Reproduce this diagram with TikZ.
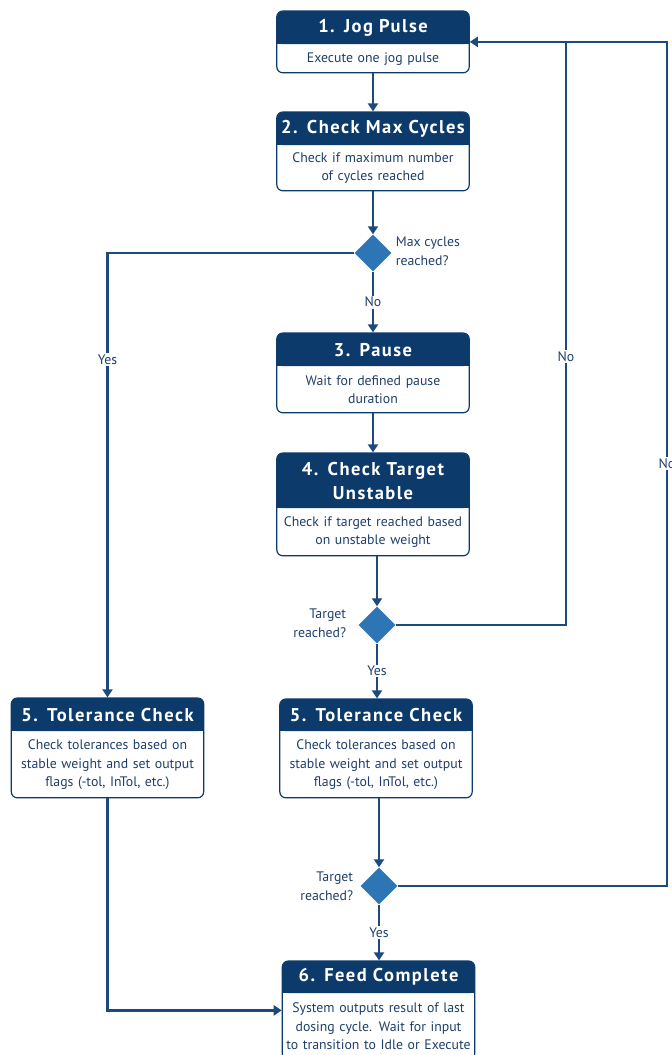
\documentclass[tikz,border=0pt]{standalone}
\usepackage{fontspec}
\setmainfont{PT Sans}
\newfontfamily\headfont[LetterSpace=8]{PT Sans}
\usetikzlibrary{positioning,fit,shapes.geometric,arrows.meta,backgrounds}
\definecolor{hdblue}{HTML}{0B3A6B}
\definecolor{dmblue}{HTML}{2E75B6}
\definecolor{lnblue}{HTML}{1C4A7E}
\definecolor{txblue}{HTML}{1F3F6A}
\begin{document}
\begin{tikzpicture}[x=1pt,y=-1pt,
  head/.style={fill=hdblue,text=white,font=\headfont\bfseries\fontsize{18.5}{24}\selectfont,text width=192pt,align=center,minimum height=#1,inner sep=0pt,rounded corners=6pt,anchor=north},
  head/.default=33pt,
  body/.style={text=txblue,font=\fontsize{13.8}{18.5}\selectfont,text width=192pt,align=center,minimum height=#1,inner sep=0pt},
  frame/.style={draw=hdblue,line width=1.2pt,rounded corners=6pt,inner sep=0pt},
  ask/.style={diamond,fill=dmblue,minimum width=37pt,minimum height=37pt,inner sep=0pt},
  note/.style={text=txblue,font=\fontsize{13.8}{19.5}\selectfont,inner sep=0pt},
  lbl/.style={fill=white,text=txblue,font=\fontsize{13.8}{16}\selectfont,inner sep=1.5pt},
  arr/.style={draw=lnblue,line width=2.4pt,-{Triangle[width=10pt,length=8pt]}},
  wire/.style={draw=lnblue,line width=2.4pt}]
\clip (0,0) rectangle (672,1055);

% boxes
\node[head] (h1) at (373,11) {1. Jog Pulse};
\scoped[on background layer] \fill[hdblue] (h1.south west) rectangle (h1.east);
\node[body=28pt,below=0pt of h1] (b1) {Execute one jog pulse};
\node[frame,fit=(h1)(b1)] (jog) {};

\node[head] (h2) at (373,112) {2. Check Max Cycles};
\scoped[on background layer] \fill[hdblue] (h2.south west) rectangle (h2.east);
\node[body=45pt,below=0pt of h2] (b2) {Check if maximum number\\of cycles reached};
\node[frame,fit=(h2)(b2)] (maxc) {};

\node[head] (h3) at (373,333) {3. Pause};
\scoped[on background layer] \fill[hdblue] (h3.south west) rectangle (h3.east);
\node[body=46pt,below=0pt of h3] (b3) {Wait for defined pause\\duration};
\node[frame,fit=(h3)(b3)] (pause) {};

\node[head=55pt] (h4) at (373,453) {4. Check Target\\Unstable};
\scoped[on background layer] \fill[hdblue] (h4.south west) rectangle (h4.east);
\node[body=47pt,below=0pt of h4] (b4) {Check if target reached based\\on unstable weight};
\node[frame,fit=(h4)(b4)] (unst) {};

\node[head] (h5) at (107.5,698) {5. Tolerance Check};
\scoped[on background layer] \fill[hdblue] (h5.south west) rectangle (h5.east);
\node[body=66pt,below=0pt of h5] (b5) {Check tolerances based on\\stable weight and set output\\flags (-tol, InTol, etc.)};
\node[frame,fit=(h5)(b5)] (tolL) {};

\node[head=32pt] (h6) at (376,699) {5. Tolerance Check};
\scoped[on background layer] \fill[hdblue] (h6.south west) rectangle (h6.east);
\node[body=66pt,below=0pt of h6] (b6) {Check tolerances based on\\stable weight and set output\\flags (-tol, InTol, etc.)};
\node[frame,fit=(h6)(b6)] (tolR) {};

\node[head=32pt] (h7) at (378.5,961) {6. Feed Complete};
\scoped[on background layer] \fill[hdblue] (h7.south west) rectangle (h7.east);
\node[body=66pt,below=0pt of h7] (b7) {System outputs result of last\\dosing cycle. Wait for input\\to transition to Idle or Execute};
\node[frame,fit=(h7)(b7)] (done) {};

% decisions
\node[ask] (q1) at (373,253) {};
\node[note,anchor=west,align=left] (t1) at ([xshift=4pt,yshift=2pt]q1.east) {Max cycles\\reached?};
\node[ask] (q2) at (377,625) {};
\node[note,anchor=east,align=right] (t2) at ([xshift=-12pt,yshift=2pt]q2.west) {Target\\reached?};
\node[ask] (q3) at (379,886) {};
\node[note,anchor=east,align=right] (t3) at ([xshift=-7pt]q3.west) {Target\\reached?};

\coordinate (rx1) at (566,0);
\coordinate (rx2) at (667,0);

% connectors
\draw[arr] (jog) -- (maxc);
\draw[arr] (maxc) -- (q1);
\draw[arr] (q1) -- node[lbl]{No} (pause);
\draw[arr] (pause) -- (unst);
\draw[arr] (unst.south -| q2) -- (q2);
\draw[arr] (q2) -- node[lbl]{Yes} (q2 |- tolR.north);
\draw[arr] (tolR.south -| q3) -- (q3);
\draw[arr] (q3) -- node[lbl]{Yes} (q3 |- done.north);
\draw[arr] (q1.west) -| node[lbl,pos=0.62]{Yes} (tolL.north);
\draw[arr] (tolL.south) |- (done.west);
\draw[arr] (q2.east) -| node[lbl,pos=0.73]{No} (jog.east -| rx1) -- (jog.east);
\draw[wire] (q3.east) -| node[lbl,pos=0.75]{No} (jog.east -| rx2) -- (jog.east -| rx1);
\end{tikzpicture}
\end{document}
